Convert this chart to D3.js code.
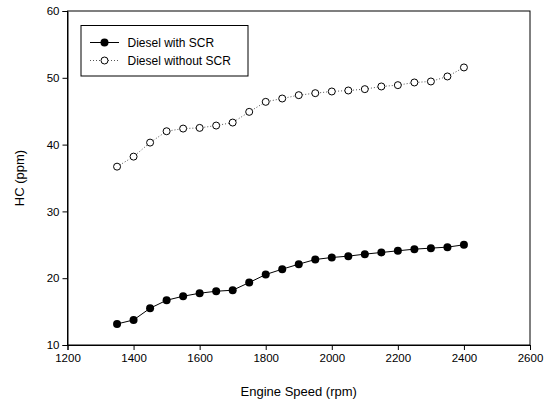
<!DOCTYPE html>
<html><head><meta charset="utf-8">
<script src="https://cdn.jsdelivr.net/npm/d3@7"></script>
<style>body{margin:0;background:#fff;} svg{display:block;}</style>
</head><body>
<script>
const speeds = [1350,1400,1450,1500,1550,1600,1650,1700,1750,1800,1850,1900,1950,2000,2050,2100,2150,2200,2250,2300,2350,2400];
const withSCR = [13.15,13.75,15.5,16.7,17.3,17.75,18.05,18.2,19.35,20.55,21.35,22.1,22.8,23.1,23.3,23.6,23.85,24.1,24.35,24.5,24.65,25.0];
const withoutSCR = [36.7,38.2,40.3,42.0,42.4,42.5,42.85,43.3,44.9,46.4,46.9,47.4,47.7,47.95,48.1,48.3,48.7,48.9,49.3,49.45,50.2,51.55];
const xTicks = [1200,1400,1600,1800,2000,2200,2400,2600];
const yTicks = [10,20,30,40,50,60];
const seriesNames = ["Diesel with SCR","Diesel without SCR"];

const W=550,H=405;
const L=67.5,R=530,T=11,B=345;
const svg=d3.select("body").append("svg").attr("width",W).attr("height",H)
  .style("font-family","'Liberation Sans', Arial, sans-serif");
const x=d3.scaleLinear().domain([1200,2600]).range([L,R]);
const y=d3.scaleLinear().domain([10,60]).range([B,T]);

// frame
svg.append("rect").attr("x",L).attr("y",T).attr("width",R-L).attr("height",B-T)
  .attr("fill","none").attr("stroke","#000").attr("stroke-width",1);

const xAxis=svg.append("g").attr("transform",`translate(0,${B})`)
  .call(d3.axisBottom(x).tickValues(xTicks).tickSize(5).tickPadding(4).tickFormat(d3.format("d")));
const yAxis=svg.append("g").attr("transform",`translate(${L},0)`)
  .call(d3.axisLeft(y).tickValues(yTicks).tickSize(5).tickPadding(3).tickFormat(d3.format("d")));
[xAxis,yAxis].forEach(g=>{
  g.select(".domain").attr("stroke","#000");
  g.selectAll("text").attr("font-size",11.5).attr("fill","#000").attr("font-family","'Liberation Sans', Arial, sans-serif");
  g.selectAll("line").attr("stroke","#000");
});

svg.append("text").attr("x",(L+R)/2).attr("y",396).attr("text-anchor","middle")
  .attr("font-size",13).text("Engine Speed (rpm)");
svg.append("text").attr("transform",`translate(24,${(T+B)/2}) rotate(-90)`).attr("text-anchor","middle")
  .attr("font-size",13).text("HC (ppm)");

const line=d3.line().x((d,i)=>x(speeds[i])).y(d=>y(d));

// without SCR - dotted
svg.append("path").datum(withoutSCR).attr("d",line).attr("fill","none")
  .attr("stroke","#555").attr("stroke-width",1).attr("stroke-dasharray","1,2");
svg.append("g").selectAll("circle").data(withoutSCR).join("circle")
  .attr("cx",(d,i)=>x(speeds[i])).attr("cy",d=>y(d)).attr("r",3.5)
  .attr("fill","#fff").attr("stroke","#000").attr("stroke-width",1);

// with SCR - solid
svg.append("path").datum(withSCR).attr("d",line).attr("fill","none")
  .attr("stroke","#000").attr("stroke-width",1);
svg.append("g").selectAll("circle").data(withSCR).join("circle")
  .attr("cx",(d,i)=>x(speeds[i])).attr("cy",d=>y(d)).attr("r",4)
  .attr("fill","#000");

// legend
const lg=svg.append("g");
lg.append("rect").attr("x",81).attr("y",25.5).attr("width",167).attr("height",50.5)
  .attr("fill","#fff").attr("stroke","#000").attr("stroke-width",1);
const rows=[42.5,60.5];
lg.append("line").attr("x1",90).attr("x2",119).attr("y1",rows[0]).attr("y2",rows[0]).attr("stroke","#000");
lg.append("circle").attr("cx",104.5).attr("cy",rows[0]).attr("r",4).attr("fill","#000");
lg.append("line").attr("x1",90).attr("x2",119).attr("y1",rows[1]).attr("y2",rows[1]).attr("stroke","#555").attr("stroke-dasharray","1,2");
lg.append("circle").attr("cx",104.5).attr("cy",rows[1]).attr("r",3.5).attr("fill","#fff").attr("stroke","#000");
seriesNames.forEach((n,i)=>{
  lg.append("text").attr("x",127.5).attr("y",rows[i]).attr("dy","0.35em").attr("font-size",12).text(n);
});
</script>
</body></html>
